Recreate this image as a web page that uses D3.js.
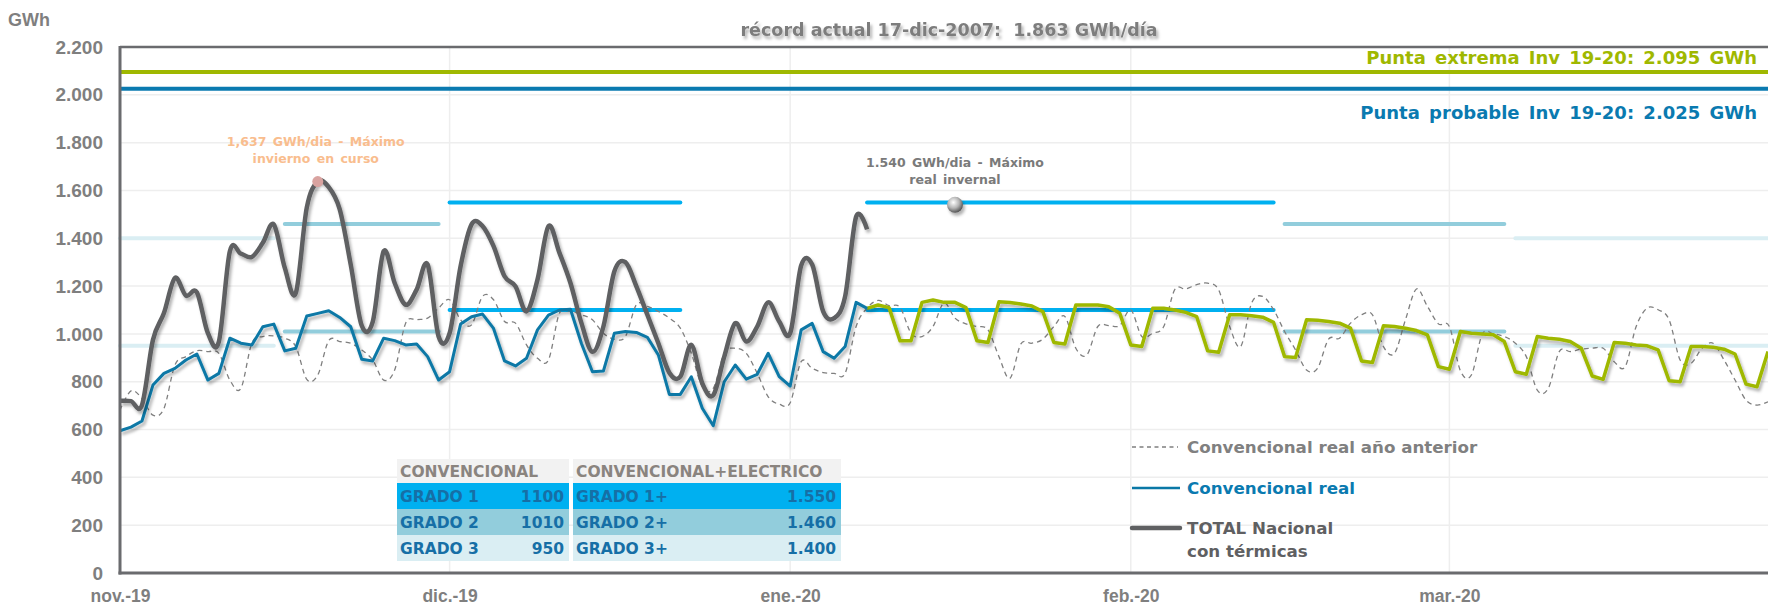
<!DOCTYPE html>
<html>
<head>
<meta charset="utf-8">
<script src="https://cdn.jsdelivr.net/npm/d3@7/dist/d3.min.js"></script>
<style>
  html, body { margin: 0; padding: 0; background: #fff; }
  svg { display: block; }
</style>
</head>
<body>
<svg id="chart" width="1768" height="605"></svg>
<script>
// ---- data ----
const startDate = new Date(2019, 10, 1);
const endDate = new Date(2020, 2, 30);
const monthTicks = [new Date(2019, 10, 1), new Date(2019, 11, 1), new Date(2020, 0, 1), new Date(2020, 1, 1), new Date(2020, 2, 1)];
const monthLabels = ['nov.-19', 'dic.-19', 'ene.-20', 'feb.-20', 'mar.-20'];
const yTicks = [0, 200, 400, 600, 800, 1000, 1200, 1400, 1600, 1800, 2000, 2200];

// daily values from 1 Nov 2019
const totalNacional = [720, 719, 702, 975, 1087, 1234, 1160, 1174, 1003, 968,
  1346, 1336, 1322, 1381, 1458, 1276, 1171, 1528, 1637, 1614,
  1521, 1290, 1035, 1050, 1346, 1213, 1122, 1185, 1290, 989,
  1003, 1283, 1458, 1451, 1367, 1241, 1199, 1094, 1227, 1451,
  1339, 1213, 1045, 925, 1031, 1262, 1300, 1199, 1080, 961,
  838, 821, 954, 793, 744, 905, 1045, 968, 1031, 1132,
  1052, 1003, 1286, 1290, 1094, 1066, 1157, 1490, 1437];

const convencionalReal = [595, 610, 636, 786, 835, 856, 891, 916, 807, 835,
  982, 961, 954, 1030, 1041, 929, 940, 1075, 1086, 1097,
  1069, 1030, 894, 887, 982, 972, 954, 958, 905, 807,
  842, 1041, 1072, 1083, 1023, 887, 866, 898, 1017, 1079,
  1100, 1103, 960, 842, 845, 1003, 1010, 1006, 986, 912,
  747, 747, 821, 689, 616, 800, 870, 811, 831, 919,
  821, 782, 1017, 1044, 926, 898, 947, 1132, 1107];

// forecast, from 8 Jan 2020 (day 68)
const previsionStart = 68;
const prevision = [1107, 1121, 1110, 971, 971, 1132, 1142, 1132, 1132, 1110,
  971, 964, 1134, 1131, 1125, 1117, 1093, 964, 958, 1121,
  1121, 1121, 1114, 1086, 954, 947, 1107, 1107, 1100, 1090,
  1072, 929, 923, 1080, 1080, 1076, 1070, 1048, 905, 901,
  1059, 1057, 1052, 1045, 1024, 887, 880, 1034, 1031, 1024,
  1014, 996, 863, 852, 1010, 1003, 1000, 996, 968, 842,
  831, 989, 982, 978, 968, 940, 824, 810, 964, 961,
  954, 950, 933, 804, 800, 947, 947, 944, 936, 916,
  790, 779, 926];

const anioAnterior = [681, 762, 730, 660, 688, 870, 905, 930, 926, 919,
  807, 772, 961, 989, 992, 982, 947, 810, 828, 972,
  968, 961, 933, 891, 807, 849, 1045, 1059, 1066, 1108,
  1143, 1059, 1038, 1157, 1143, 1052, 1045, 954, 898, 891,
  1087, 1094, 1080, 1059, 1003, 978, 989, 1122, 1115, 1094,
  1066, 1024, 919, 779, 772, 919, 940, 919, 835, 737,
  706, 712, 884, 856, 838, 835, 835, 1031, 1108, 1140,
  1118, 1111, 1003, 989, 1031, 1129, 1066, 1042, 1031, 1017,
  905, 814, 958, 961, 978, 1031, 1073, 940, 912, 1031,
  1035, 1035, 1101, 989, 1003, 1031, 1185, 1188, 1206, 1212,
  1184, 1031, 947, 1129, 1157, 1101, 1010, 933, 849, 856,
  978, 982, 1045, 1080, 1080, 947, 919, 1059, 1188, 1115,
  1042, 1031, 846, 828, 1000, 1000, 989, 961, 905, 765,
  772, 926, 926, 936, 940, 940, 884, 863, 1031, 1108,
  1101, 1059, 891, 877, 940, 961, 891, 807, 723, 702, 716];

const puntaExtrema = 2095;
const puntaProbable = 2025;

const gradoNames = ['GRADO 1', 'GRADO 2', 'GRADO 3'];
const gradoConv = [1100, 1010, 950];
const gradoElec = [1550, 1460, 1400];
const gradoColors = ['#00b0f0', '#92cddc', '#daeef3'];

// alert periods (day index from 1 Nov) and their grado (0..2)
const periodStart = [0, 15, 30, 68, 106, 127];
const periodEnd = [14, 29, 51, 105, 126, 150];
const periodGrado = [2, 1, 0, 0, 1, 2];

const maxCursoDay = 18, maxCursoValue = 1637;
const maxRealDay = 76, maxRealValue = 1540;

const legendLabels = ['Convencional real año anterior', 'Convencional real', 'TOTAL Nacional', 'con térmicas'];

// ---- drawing ----
const svg = d3.select('#chart');
const W = 1768, H = 605;
const x = d3.scaleTime().domain([startDate, endDate]).range([120, W]);
const y = d3.scaleLinear().domain([0, 2200]).range([573, 47]);
const dayDate = i => d3.timeDay.offset(startDate, i);
const esFmt = d3.formatLocale({ decimal: ',', thousands: '.', grouping: [3], currency: ['', ''] }).format(',');

const verdana = 'DejaVu Sans, Verdana, sans-serif';
const arial = 'Liberation Sans, Arial, sans-serif';

const defs = svg.append('defs');
const sh = defs.append('filter').attr('id', 'shadow')
  .attr('filterUnits', 'userSpaceOnUse').attr('x', 0).attr('y', 0).attr('width', W).attr('height', H);
sh.append('feDropShadow').attr('dx', 2).attr('dy', 3).attr('stdDeviation', 1.8)
  .attr('flood-color', '#000').attr('flood-opacity', 0.3);
const grad = defs.append('radialGradient').attr('id', 'sphere').attr('cx', '40%').attr('cy', '35%').attr('r', '65%');
grad.append('stop').attr('offset', '0%').attr('stop-color', '#ffffff');
grad.append('stop').attr('offset', '55%').attr('stop-color', '#b5b5b5');
grad.append('stop').attr('offset', '100%').attr('stop-color', '#555');

// gridlines
svg.append('g').selectAll('line').data(yTicks.filter(v => v > 0 && v < 2200)).join('line')
  .attr('x1', 120).attr('x2', W).attr('y1', d => y(d)).attr('y2', d => y(d))
  .attr('stroke', '#eeeeee').attr('stroke-width', 1.5);
svg.append('g').selectAll('line').data(monthTicks.slice(1)).join('line')
  .attr('x1', d => x(d)).attr('x2', d => x(d)).attr('y1', y(2200)).attr('y2', y(0))
  .attr('stroke', '#eeeeee').attr('stroke-width', 1.5);

// target lines
svg.append('line').attr('x1', 120).attr('x2', W).attr('y1', y(puntaExtrema)).attr('y2', y(puntaExtrema))
  .attr('stroke', '#9fb800').attr('stroke-width', 4);
svg.append('line').attr('x1', 120).attr('x2', W).attr('y1', y(puntaProbable)).attr('y2', y(puntaProbable))
  .attr('stroke', '#0a7ab0').attr('stroke-width', 4);

// grado segments
const segs = [];
periodStart.forEach((s, i) => {
  const g = periodGrado[i];
  segs.push({ s, e: periodEnd[i], v: gradoElec[g], c: gradoColors[g] });
  segs.push({ s, e: periodEnd[i], v: gradoConv[g], c: gradoColors[g] });
});
svg.append('g').selectAll('line').data(segs).join('line')
  .attr('x1', d => x(dayDate(d.s))).attr('x2', d => x(dayDate(d.e)))
  .attr('y1', d => y(d.v)).attr('y2', d => y(d.v))
  .attr('stroke', d => d.c).attr('stroke-width', 4).attr('stroke-linecap', 'round');

// series
const smooth = d3.line().x((d, i) => x(dayDate(i))).y(d => y(d)).curve(d3.curveCardinal.tension(0));
const straight = d3.line().x((d, i) => x(dayDate(i))).y(d => y(d));
const straightFc = d3.line().x((d, i) => x(dayDate(previsionStart + i))).y(d => y(d));

svg.append('path').attr('d', smooth(anioAnterior)).attr('fill', 'none')
  .attr('stroke', '#7f7f7f').attr('stroke-width', 1.3).attr('stroke-dasharray', '5,4');
svg.append('path').attr('d', straightFc(prevision)).attr('fill', 'none').attr('filter', 'url(#shadow)')
  .attr('stroke', '#9fb800').attr('stroke-width', 3.5).attr('stroke-linejoin', 'round');
svg.append('path').attr('d', straight(convencionalReal)).attr('fill', 'none').attr('filter', 'url(#shadow)')
  .attr('stroke', '#0a78a6').attr('stroke-width', 3).attr('stroke-linejoin', 'round');
svg.append('path').attr('d', smooth(totalNacional)).attr('fill', 'none').attr('filter', 'url(#shadow)')
  .attr('stroke', '#5f6062').attr('stroke-width', 4.5).attr('stroke-linejoin', 'round');

// markers
svg.append('circle').attr('cx', x(dayDate(maxCursoDay))).attr('cy', y(maxCursoValue)).attr('r', 5.5)
  .attr('fill', '#d9a3a0');
svg.append('circle').attr('cx', x(dayDate(maxRealDay))).attr('cy', y(maxRealValue)).attr('r', 8)
  .attr('fill', 'url(#sphere)').attr('filter', 'url(#shadow)');

// annotations
const ann1 = svg.append('text').attr('y', 146)
  .attr('text-anchor', 'middle').attr('font-family', verdana).attr('font-weight', 'bold')
  .attr('font-size', 12.5).attr('word-spacing', 2).attr('fill', '#f9bd8e');
ann1.append('tspan').attr('x', x(dayDate(maxCursoDay)) - 2).text(`${esFmt(maxCursoValue).replace('.', ',')} GWh/dia - Máximo`);
ann1.append('tspan').attr('x', x(dayDate(maxCursoDay)) - 2).attr('dy', 17).text('invierno en curso');

const ann2 = svg.append('text').attr('y', 167)
  .attr('text-anchor', 'middle').attr('font-family', verdana).attr('font-weight', 'bold')
  .attr('font-size', 12.5).attr('word-spacing', 2).attr('fill', '#7a7a7a');
ann2.append('tspan').attr('x', x(dayDate(maxRealDay))).text(`${esFmt(maxRealValue)} GWh/dia - Máximo`);
ann2.append('tspan').attr('x', x(dayDate(maxRealDay))).attr('dy', 17).text('real invernal');

// frame
svg.append('line').attr('x1', 120).attr('x2', W).attr('y1', y(2200)).attr('y2', y(2200))
  .attr('stroke', '#6a6b6e').attr('stroke-width', 2.5);
svg.append('line').attr('x1', 120).attr('x2', 120).attr('y1', y(2200) - 1).attr('y2', y(0) + 1.5)
  .attr('stroke', '#6a6b6e').attr('stroke-width', 3);
svg.append('line').attr('x1', 118.5).attr('x2', W).attr('y1', y(0)).attr('y2', y(0))
  .attr('stroke', '#6a6b6e').attr('stroke-width', 3);

// axes
const yAxis = svg.append('g').attr('transform', 'translate(120,0)')
  .call(d3.axisLeft(y).tickValues(yTicks).tickFormat(esFmt).tickSize(0).tickPadding(17));
const xAxis = svg.append('g').attr('transform', `translate(0,${y(0)})`)
  .call(d3.axisBottom(x).tickValues(monthTicks).tickFormat((d, i) => monthLabels[i]).tickSize(0).tickPadding(17));
[yAxis, xAxis].forEach(a => {
  a.select('.domain').remove();
  a.selectAll('text').attr('font-family', arial).attr('font-weight', 'bold').attr('fill', '#7f7f7f');
});
yAxis.selectAll('text').attr('font-size', 19);
xAxis.selectAll('text').attr('font-size', 17.5);

svg.append('text').attr('x', 8).attr('y', 26).attr('font-family', arial).attr('font-weight', 'bold')
  .attr('font-size', 18).attr('fill', '#7f7f7f').text('GWh');

// title
svg.append('text').attr('x', 949).attr('y', 36).attr('text-anchor', 'middle')
  .attr('font-family', verdana).attr('font-weight', 'bold').attr('font-size', 17.5)
  .attr('fill', '#7d7d7d').attr('filter', 'url(#shadow)')
  .text('récord actual 17-dic-2007:  1.863 GWh/día').attr('xml:space', 'preserve');

// target labels
svg.append('text').attr('x', 1757).attr('y', 64).attr('text-anchor', 'end')
  .attr('font-family', verdana).attr('font-weight', 'bold').attr('font-size', 18).attr('word-spacing', 3)
  .attr('fill', '#9fb800')
  .text(`Punta extrema Inv 19-20: ${esFmt(puntaExtrema)} GWh`);
svg.append('text').attr('x', 1757).attr('y', 119).attr('text-anchor', 'end')
  .attr('font-family', verdana).attr('font-weight', 'bold').attr('font-size', 18).attr('word-spacing', 3)
  .attr('fill', '#0a7ab0')
  .text(`Punta probable Inv 19-20: ${esFmt(puntaProbable)} GWh`);

// table
const colX = [397, 573], colW = [172, 268];
const headTop = 459, headH = 24, rowH = 26;
const table = svg.append('g').attr('font-family', verdana).attr('font-weight', 'bold').attr('font-size', 15.5);
['CONVENCIONAL', 'CONVENCIONAL+ELECTRICO'].forEach((h, c) => {
  table.append('rect').attr('x', colX[c]).attr('y', headTop).attr('width', colW[c]).attr('height', headH).attr('fill', '#f2f2f2');
  table.append('text').attr('x', colX[c] + 3).attr('y', headTop + headH / 2).attr('dy', '0.36em')
    .attr('fill', '#8a847f').text(h);
});
gradoNames.forEach((g, r) => {
  const ry = headTop + headH + r * rowH;
  [0, 1].forEach(c => {
    table.append('rect').attr('x', colX[c]).attr('y', ry).attr('width', colW[c]).attr('height', rowH).attr('fill', gradoColors[r]);
    table.append('text').attr('x', colX[c] + 3).attr('y', ry + rowH / 2).attr('dy', '0.36em')
      .attr('fill', '#166fa6').text(c === 0 ? g : g + '+');
    table.append('text').attr('x', colX[c] + colW[c] - 5).attr('y', ry + rowH / 2).attr('dy', '0.36em')
      .attr('text-anchor', 'end').attr('fill', '#166fa6')
      .text(c === 0 ? String(gradoConv[r]) : esFmt(gradoElec[r]));
  });
});

// legend
const lg = svg.append('g').attr('font-family', verdana).attr('font-weight', 'bold').attr('font-size', 16.7);
lg.append('line').attr('x1', 1132).attr('x2', 1178).attr('y1', 447).attr('y2', 447)
  .attr('stroke', '#7f7f7f').attr('stroke-width', 1.3).attr('stroke-dasharray', '4,3.5');
lg.append('text').attr('x', 1187).attr('y', 447).attr('dy', '0.36em').attr('fill', '#808080').text(legendLabels[0]);
lg.append('line').attr('x1', 1132).attr('x2', 1180).attr('y1', 488).attr('y2', 488)
  .attr('stroke', '#0a78a6').attr('stroke-width', 2.5);
lg.append('text').attr('x', 1187).attr('y', 488).attr('dy', '0.36em').attr('fill', '#0a7ab0').text(legendLabels[1]);
lg.append('line').attr('x1', 1132).attr('x2', 1180).attr('y1', 528).attr('y2', 528)
  .attr('stroke', '#5f6062').attr('stroke-width', 4.5).attr('stroke-linecap', 'round');
lg.append('text').attr('x', 1187).attr('y', 528).attr('dy', '0.36em').attr('fill', '#5f6062').text(legendLabels[2]);
lg.append('text').attr('x', 1187).attr('y', 551).attr('dy', '0.36em').attr('fill', '#5f6062').text(legendLabels[3]);
</script>
</body>
</html>
